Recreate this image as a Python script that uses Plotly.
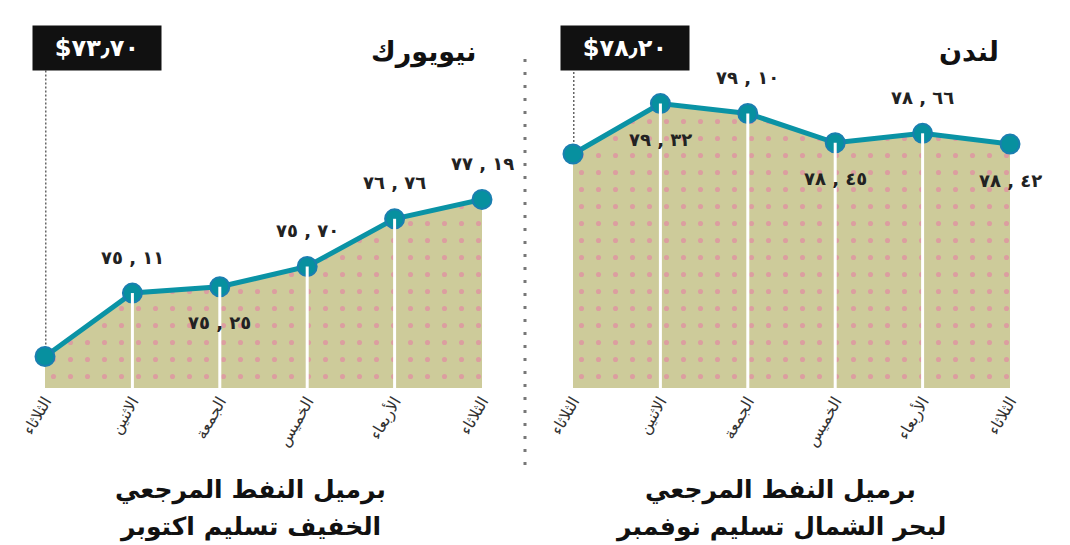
import plotly.graph_objects as go

days = ["الثلاثاء", "الاثنين", "الجمعة", "الخميس", "الأربعاء", "الثلاثاء"]
ny_values = [73.70, 75.11, 75.25, 75.70, 76.76, 77.19]
ldn_values = [78.20, 79.32, 79.10, 78.45, 78.66, 78.42]
ny_title = "نيويورك"
ldn_title = "لندن"
ny_caption = ["برميل النفط المرجعي", "الخفيف تسليم اكتوبر"]
ldn_caption = ["برميل النفط المرجعي", "لبحر الشمال تسليم نوفمبر"]

# label placement: +1 above, -1 below, 0 none
ny_lab_pos = [0, 1, -1, 1, 1, 1]
ldn_lab_pos = [0, -1, 1, -1, 1, -1]

DIG = str.maketrans("0123456789", "٠١٢٣٤٥٦٧٨٩")


def ar(v, sep=" , "):
    a, b = f"{v:.2f}".split(".")
    # LRO ... PDF keeps the integer part on the left
    return "\u202d" + a.translate(DIG) + sep + b.translate(DIG) + "\u202c"


FONT = "DejaVu Sans"
LINE = "#0a93a5"
FILL_BG = "#cdcb9a"
DOT = "#dc9ea0"

YMIN, YMAX = 73.0, 81.0

fig = go.Figure()

panels = [
    (ny_values, ny_lab_pos, "x", "y", ny_title, ny_caption),
    (ldn_values, ldn_lab_pos, "x2", "y2", ldn_title, ldn_caption),
]

xdom = [[45 / 1070, 482 / 1070], [573 / 1070, 1010 / 1070]]
title_right = [478, 1001]
cap_center = [250, 780]

for i, (vals, lpos, xa, ya, title, cap) in enumerate(panels):
    xs = list(range(len(vals)))
    fig.add_trace(go.Scatter(
        x=xs, y=vals, xaxis=xa, yaxis=ya, mode="lines",
        line=dict(width=0), fill="tozeroy", fillcolor=FILL_BG,
        fillpattern=dict(shape=".", size=17, solidity=0.07, fgcolor=DOT,
                         bgcolor=FILL_BG, fgopacity=1),
        hoverinfo="skip", showlegend=False,
    ))
    # white separators
    for k in range(1, len(vals) - 1):
        fig.add_shape(type="line", xref=xa, yref=ya, x0=xs[k], x1=xs[k],
                      y0=YMIN, y1=vals[k], line=dict(color="white", width=3),
                      layer="above")
    fig.add_trace(go.Scatter(
        x=xs, y=vals, xaxis=xa, yaxis=ya, mode="lines+markers",
        line=dict(color=LINE, width=5),
        marker=dict(size=19, color="#07909f", line=dict(color="#1a7fb0", width=2)),
        cliponaxis=False, hoverinfo="skip", showlegend=False,
    ))
    # data labels
    for k, (v, p) in enumerate(zip(vals, lpos)):
        if p == 0:
            continue
        fig.add_annotation(xref=xa, yref=ya, x=xs[k], y=v, text="<b>" + ar(v) + "</b>",
                           showarrow=False, yshift=36 * p,
                           font=dict(family=FONT, size=18, color="#222"))
    # price box & connector
    fig.add_shape(type="line", xref=xa, yref=ya, x0=0, x1=0, y0=vals[0],
                  y1=80.1, line=dict(color="#666", width=3, dash="2px,2px"),
                  layer="below")
    fig.add_annotation(xref=xa, yref=ya, x=0, y=80.55, xanchor="left",
                       xshift=-13, text="<b>$" + ar(vals[0], "٫") + "</b>",
                       showarrow=False, bgcolor="#111", borderpad=2,
                       width=124, height=40, align="center",
                       font=dict(family=FONT, size=24, color="white"))
    # title
    fig.add_annotation(xref="paper", yref="paper", x=title_right[i] / 1070,
                       y=1 - (52 - 28) / 360, xanchor="right", yanchor="middle",
                       text="<b>" + title + "</b>", showarrow=False,
                       font=dict(family=FONT, size=27, color="#111"))
    # caption
    for j, line in enumerate(cap):
        fig.add_annotation(xref="paper", yref="paper", x=cap_center[i] / 1070,
                           y=-(490 + 37 * j - 388) / 360, xanchor="center",
                           yanchor="middle", text="<b>" + line + "</b>", showarrow=False,
                           font=dict(family=FONT, size=25, color="#111"))

# dotted separator between panels
fig.add_shape(type="line", xref="paper", yref="paper", x0=525 / 1070, x1=525 / 1070,
              y0=-(465 - 388) / 360, y1=1 - (55 - 28) / 360,
              line=dict(color="#777", width=3, dash="3px,10px"))

axis_common = dict(tickmode="array", tickvals=list(range(6)), ticktext=days,
                   tickangle=-60, showgrid=False, zeroline=False, showline=False,
                   ticks="", range=[0, 5], automargin=False,
                   tickfont=dict(family=FONT, size=16, color="#333"))
yaxis_common = dict(range=[YMIN, YMAX], visible=False, showgrid=False,
                    zeroline=False, automargin=False)

fig.update_layout(
    width=1070, height=545,
    margin=dict(l=0, r=0, t=28, b=157, pad=0, autoexpand=False),
    paper_bgcolor="white", plot_bgcolor="white",
    xaxis=dict(domain=xdom[0], anchor="y", **axis_common),
    xaxis2=dict(domain=xdom[1], anchor="y2", **axis_common),
    yaxis=dict(anchor="x", **yaxis_common),
    yaxis2=dict(anchor="x2", **yaxis_common),
    showlegend=False,
)

fig.write_html("out.html", config={"displayModeBar": False},
               post_script="document.body.style.margin='0';document.body.style.overflow='hidden';")
